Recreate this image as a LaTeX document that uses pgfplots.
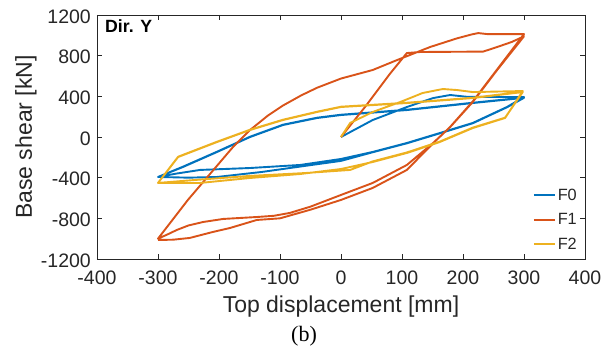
\documentclass[border=0pt]{standalone}
\usepackage{fontspec}
\setmainfont{Liberation Sans}
\newfontfamily\timesfont{Liberation Serif}
\usepackage{pgfplots}
\pgfplotsset{compat=1.18}
\definecolor{mblue}{HTML}{0072BD}
\definecolor{morange}{HTML}{D95319}
\definecolor{myellow}{HTML}{EDB120}
\definecolor{axgray}{HTML}{262626}
\begin{document}
\begin{tikzpicture}
\path[use as bounding box] (-97pt,-91pt) rectangle (513pt,259pt);
\begin{axis}[
  at={(0pt,0pt)}, anchor=south west,
  scale only axis, width=488pt, height=244pt,
  xmin=-400, xmax=400, ymin=-1200, ymax=1200,
  xtick={-400,-300,...,400}, ytick={-1200,-800,...,1200},
  tick align=inside, xtick pos=both, ytick pos=both,
  major tick length=5pt,
  axis line style={axgray, line width=0.9pt},
  tick style={axgray, line width=0.9pt},
  /pgf/number format/assume math mode=true,
  /pgf/number format/1000 sep={},
  ticklabel style={font=\fontsize{19.5}{22}\selectfont, text=axgray},
  xticklabel style={anchor=base, inner sep=0pt, yshift=-26pt},
  yticklabel style={anchor=east, inner sep=0pt, xshift=-6pt, yshift=-1.5pt},
  xlabel={Top displacement [mm]},
  ylabel={Base shear [kN]},
  label style={font=\fontsize{23}{26}\selectfont, text=axgray, inner sep=0pt},
  xlabel style={at={(axis description cs:0.5,0)}, anchor=base, yshift=-54pt},
  ylabel style={at={(axis description cs:0,0.5)}, anchor=base, yshift=65pt},
  legend style={at={(axis description cs:1,0)}, anchor=south east, xshift=-8pt, yshift=8pt,
    draw=none, fill=none, font=\fontsize{16.3}{18}\selectfont, inner sep=0pt,
    row sep=11.8pt, column sep=2pt, nodes={inner sep=0pt, text=axgray}},
  legend cell align=left,
  legend image code/.code={\draw[#1] (0pt,0pt) -- (21pt,0pt);},
  every axis plot/.append style={line width=1.9pt, line join=round},
  clip=false,
]
\addplot[mblue] coordinates {
(0,0) (52,167) (108,295) (151,383) (179,413) (207,395) (250,393) (300,393)
(272,295) (216,138) (162,39) (108,-59) (52,-147) (0,-216) (-67,-275) (-149,-305) (-231,-324) (-270,-360) (-300,-393)
(-259,-295) (-203,-147) (-149,0) (-95,118) (-39,187) (0,216) (108,265) (216,334) (300,385)
(272,292) (216,135) (162,36) (108,-62) (52,-150) (0,-235) (-60,-285) (-130,-344) (-203,-393) (-250,-400) (-300,-393)
(-259,-292) (-203,-144) (-149,3) (-95,121) (-39,190) (0,219) (108,268) (216,337) (300,388)
};
\addlegendentry{F0}
\addplot[morange] coordinates {
(0,0) (40,300) (80,620) (108,826) (130,836) (180,838) (233,840) (256,885) (280,935) (300,990)
(256,659) (216,344) (179,98) (151,-59) (108,-275) (52,-452) (0,-570) (-50,-685) (-84,-747) (-110,-775) (-138,-787) (-193,-806) (-226,-836) (-250,-870) (-269,-914) (-285,-960) (-300,-1000)
(-251,-619) (-177,-98) (-149,69) (-120,210) (-95,310) (-65,410) (-39,485) (0,575) (52,659) (92,757) (146,885) (190,970) (215,1010) (225,1022) (240,1012) (300,1012)
(256,665) (216,350) (179,100) (151,-62) (108,-324) (52,-501) (0,-619) (-50,-715) (-100,-800) (-138,-816) (-182,-895) (-210,-934) (-248,-993) (-275,-1010) (-300,-1013)
};
\addlegendentry{F1}
\addplot[myellow] coordinates {
(0,0) (15,138) (52,246) (97,344) (134,433) (167,472) (190,462) (216,442) (298,452)
(269,187) (216,88) (162,-49) (108,-157) (52,-246) (0,-315) (-67,-364) (-149,-403) (-231,-452) (-300,-452)
(-267,-197) (-203,-49) (-149,69) (-95,167) (-39,246) (0,295) (108,334) (216,383) (298,442)
(269,190) (216,92) (162,-45) (108,-152) (52,-240) (15,-324) (-60,-355) (-150,-383) (-240,-423) (-300,-452)
(-267,-194) (-203,-46) (-149,72) (-95,170) (-39,249) (0,298) (108,337) (216,386) (298,445)
};
\addlegendentry{F2}
\node[anchor=base west, inner sep=0pt, font=\bfseries\fontsize{17.7}{20}\selectfont]
  at (rel axis cs:0,1) [xshift=8pt, yshift=-18pt] {Dir. Y};
\end{axis}
\node[anchor=base, inner sep=0pt, font=\timesfont\fontsize{22}{24}\selectfont] at (207pt,-83pt) {(b)};
\end{tikzpicture}
\end{document}
